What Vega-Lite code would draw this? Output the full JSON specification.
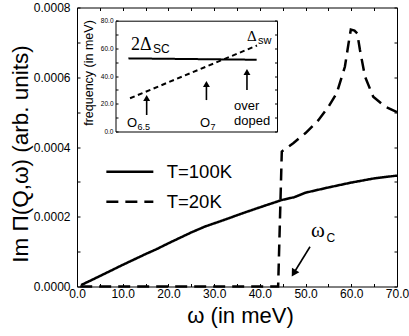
{
  "$schema": "https://vega.github.io/schema/vega-lite/v6.json",
  "width": 320,
  "height": 279,
  "autosize": "none",
  "padding": {"left": 77, "top": 7.5, "right": 12, "bottom": 49.5},
  "background": "white",
  "config": {
    "view": {"stroke": "#000", "strokeWidth": 1},
    "font": "Liberation Sans",
    "axis": {"grid": false, "labelColor": "#000", "tickColor": "#000", "domainColor": "#000", "titleColor": "#000", "labelFont": "Liberation Sans", "titleFont": "Liberation Sans", "titleFontWeight": "normal", "labelFlush": false, "labelOverlap": false}
  },
  "datasets": {
    "main": [
      {"w": 0.9, "v": 0.000004, "T": "T=100K"},
      {"w": 5, "v": 0.00003, "T": "T=100K"},
      {"w": 10, "v": 0.000062, "T": "T=100K"},
      {"w": 15, "v": 0.000093, "T": "T=100K"},
      {"w": 17.4, "v": 0.000107, "T": "T=100K"},
      {"w": 20, "v": 0.000124, "T": "T=100K"},
      {"w": 25, "v": 0.000155, "T": "T=100K"},
      {"w": 28, "v": 0.000172, "T": "T=100K"},
      {"w": 32, "v": 0.00019, "T": "T=100K"},
      {"w": 36, "v": 0.000209, "T": "T=100K"},
      {"w": 40, "v": 0.000227, "T": "T=100K"},
      {"w": 44.8, "v": 0.000248, "T": "T=100K"},
      {"w": 47.5, "v": 0.000256, "T": "T=100K"},
      {"w": 50, "v": 0.000269, "T": "T=100K"},
      {"w": 55, "v": 0.000284, "T": "T=100K"},
      {"w": 60, "v": 0.000298, "T": "T=100K"},
      {"w": 65, "v": 0.00031, "T": "T=100K"},
      {"w": 70, "v": 0.000318, "T": "T=100K"},
      {"w": 0.7, "v": 0, "T": "T=20K"},
      {"w": 44.0, "v": 0, "T": "T=20K"},
      {"w": 44.8, "v": 0.000387, "T": "T=20K"},
      {"w": 47.3, "v": 0.000411, "T": "T=20K"},
      {"w": 50, "v": 0.00044, "T": "T=20K"},
      {"w": 52.8, "v": 0.000477, "T": "T=20K"},
      {"w": 55, "v": 0.000515, "T": "T=20K"},
      {"w": 56.8, "v": 0.000554, "T": "T=20K"},
      {"w": 58.6, "v": 0.00063, "T": "T=20K"},
      {"w": 59.4, "v": 0.000697, "T": "T=20K"},
      {"w": 59.9, "v": 0.000737, "T": "T=20K"},
      {"w": 60.7, "v": 0.000734, "T": "T=20K"},
      {"w": 61.3, "v": 0.000726, "T": "T=20K"},
      {"w": 61.9, "v": 0.000678, "T": "T=20K"},
      {"w": 63, "v": 0.000602, "T": "T=20K"},
      {"w": 64.8, "v": 0.000544, "T": "T=20K"},
      {"w": 67.4, "v": 0.000516, "T": "T=20K"},
      {"w": 70, "v": 0.0005, "T": "T=20K"}
    ],
    "wc": [{"w1": 50.97, "v1": 0.000114, "w2": 47.4, "v2": 0.000038}],
    "mtext": [
      {"w": 51.2, "v": 0.000143, "t": "ω", "g": "big"},
      {"w": 54.6, "v": 0.0001285, "t": "C", "g": "sub"}
    ],
    "ilines": [
      {"p": 0.8, "f": 52.8, "s": "2ΔSC"},
      {"p": 8.74, "f": 51.8, "s": "2ΔSC"},
      {"p": 0.9, "f": 24.0, "s": "Δsw"},
      {"p": 8.76, "f": 62.1, "s": "Δsw"}
    ],
    "iarrows": [
      {"p": 1.93, "f1": 11.9, "f2": 24.2},
      {"p": 5.63, "f1": 22.7, "f2": 34.3},
      {"p": 8.14, "f1": 30, "f2": 42.9}
    ],
    "itext": [
      {"p": 0.96, "f": 58.8, "t": "2Δ", "g": "serif18"},
      {"p": 2.32, "f": 57, "t": "SC", "g": "sub12"},
      {"p": 8.14, "f": 65, "t": "Δ", "g": "serif15"},
      {"p": 8.82, "f": 63.2, "t": "sw", "g": "sub11"},
      {"p": 0.71, "f": 3.2, "t": "O", "g": "sans13"},
      {"p": 1.36, "f": 1.1, "t": "6.5", "g": "sub9"},
      {"p": 5.23, "f": 3.2, "t": "O", "g": "sans13"},
      {"p": 5.88, "f": 1.1, "t": "7", "g": "sub9"},
      {"p": 7.34, "f": 15.5, "t": "over", "g": "sans13"},
      {"p": 7.34, "f": 4.7, "t": "doped", "g": "sans13"}
    ]
  },
  "resolve": {"scale": {"x": "independent", "y": "independent", "strokeDash": "independent"}},
  "layer": [
    {
      "data": {"name": "main"},
      "mark": {"type": "line", "color": "#000", "strokeWidth": 2.5, "strokeCap": "butt"},
      "encoding": {
        "x": {"field": "w", "type": "quantitative", "scale": {"domain": [0, 70], "nice": false, "zero": false},
          "axis": {"orient": "bottom", "values": [0,5,10,15,20,25,30,35,40,45,50,55,60,65,70], "labelExpr": "datum.value % 10 === 0 ? format(datum.value, '.1f') : ''", "tickSize": -3, "labelPadding": 4.5, "labelFontSize": 12, "domain": false,
            "title": "ω (in meV)", "titleFontSize": 22, "titleX": 163, "titleY": 35.5, "titleBaseline": "alphabetic", "titleAlign": "center"}},
        "y": {"field": "v", "type": "quantitative", "scale": {"domain": [0, 0.0008], "nice": false},
          "axis": {"orient": "left", "values": [0,0.0001,0.0002,0.0003,0.0004,0.0005,0.0006,0.0007,0.0008], "labelExpr": "round(datum.value * 10000) % 2 === 0 ? format(datum.value, '.4f') : ''", "tickSize": -3, "labelPadding": 10, "labelFontSize": 12, "domain": false,
            "title": "Im Π(Q,ω) (arb. units)", "titleFontSize": 22.5, "titleX": -50, "titleY": 146, "titleAngle": 270, "titleBaseline": "alphabetic", "titleAlign": "center"}},
        "strokeDash": {"field": "T", "type": "nominal", "scale": {"domain": ["T=100K", "T=20K"], "range": [[1, 0], [12, 7]]},
          "legend": {"title": null, "orient": "none", "legendX": 43.6, "legendY": 155, "symbolType": "M-4,0H4", "symbolSize": 138, "symbolStrokeWidth": 2.5, "symbolStrokeColor": "#000", "labelFontSize": 18.5, "labelFont": "Liberation Sans", "labelColor": "#000", "labelOffset": 27.6, "rowPadding": 11, "padding": 0}}
      }
    },
    {
      "data": {"name": "wc"},
      "mark": {"type": "rule", "color": "#000", "strokeWidth": 1.6},
      "encoding": {
        "x": {"field": "w1", "type": "quantitative", "scale": {"domain": [0, 70], "nice": false, "zero": false},
          "axis": {"orient": "top", "values": [0,5,10,15,20,25,30,35,40,45,50,55,60,65,70], "labels": false, "tickSize": -3, "domain": false, "title": null}},
        "x2": {"field": "w2"},
        "y": {"field": "v1", "type": "quantitative", "scale": {"domain": [0, 0.0008], "nice": false},
          "axis": {"orient": "right", "values": [0,0.0001,0.0002,0.0003,0.0004,0.0005,0.0006,0.0007,0.0008], "labels": false, "tickSize": -3, "domain": false, "title": null}},
        "y2": {"field": "v2"}
      }
    },
    {
      "data": {"name": "wc"},
      "mark": {"type": "point", "shape": "triangle-up", "filled": true, "color": "#000", "size": 75, "angle": 211.4, "opacity": 1},
      "encoding": {
        "x": {"field": "w2", "type": "quantitative", "scale": {"domain": [0, 70], "nice": false, "zero": false}, "axis": null},
        "y": {"field": "v2", "type": "quantitative", "scale": {"domain": [0, 0.0008], "nice": false}, "axis": null}
      }
    },
    {
      "data": {"name": "mtext"},
      "transform": [{"filter": "datum.g === 'big'"}],
      "mark": {"type": "text", "font": "Liberation Serif", "fontSize": 21, "align": "left", "baseline": "alphabetic", "color": "#000"},
      "encoding": {
        "x": {"field": "w", "type": "quantitative", "scale": {"domain": [0, 70], "nice": false, "zero": false}, "axis": null},
        "y": {"field": "v", "type": "quantitative", "scale": {"domain": [0, 0.0008], "nice": false}, "axis": null},
        "text": {"field": "t"}
      }
    },
    {
      "data": {"name": "mtext"},
      "transform": [{"filter": "datum.g === 'sub'"}],
      "mark": {"type": "text", "font": "Liberation Sans", "fontSize": 12, "align": "left", "baseline": "alphabetic", "color": "#000"},
      "encoding": {
        "x": {"field": "w", "type": "quantitative", "scale": {"domain": [0, 70], "nice": false, "zero": false}, "axis": null},
        "y": {"field": "v", "type": "quantitative", "scale": {"domain": [0, 0.0008], "nice": false}, "axis": null},
        "text": {"field": "t"}
      }
    },
    {
      "data": {"name": "ilines"},
      "mark": {"type": "line", "color": "#000", "strokeWidth": 2, "strokeCap": "butt"},
      "encoding": {
        "x": {"field": "p", "type": "quantitative", "scale": {"domain": [0, 10], "range": [38.5, 200], "nice": false, "zero": false},
          "axis": {"orient": "bottom", "offset": -155, "ticks": false, "labels": false, "domain": true, "title": null}},
        "y": {"field": "f", "type": "quantitative", "scale": {"domain": [0, 80], "range": [124, 13.2], "nice": false, "zero": false},
          "axis": {"orient": "left", "offset": -38.5, "values": [0,10,20,30,40,50,60,70,80], "labelExpr": "datum.value % 20 === 0 ? format(datum.value, '.1f') : ''", "tickSize": -2.5, "labelPadding": 5, "labelFontSize": 6.5, "domain": true,
            "title": "frequency (in meV)", "titleFontSize": 12.5, "titleX": -23.5, "titleY": 65, "titleAngle": 270, "titleBaseline": "alphabetic", "titleAlign": "center"}},
        "strokeDash": {"field": "s", "type": "nominal", "scale": {"domain": ["2ΔSC", "Δsw"], "range": [[1, 0], [5, 3.5]]}, "legend": null}
      }
    },
    {
      "data": {"name": "iarrows"},
      "mark": {"type": "rule", "color": "#000", "strokeWidth": 1.6},
      "encoding": {
        "x": {"field": "p", "type": "quantitative", "scale": {"domain": [0, 10], "range": [38.5, 200], "nice": false, "zero": false},
          "axis": {"orient": "top", "offset": -13.2, "ticks": false, "labels": false, "domain": true, "title": null}},
        "y": {"field": "f1", "type": "quantitative", "scale": {"domain": [0, 80], "range": [124, 13.2], "nice": false, "zero": false},
          "axis": {"orient": "right", "offset": -120, "values": [0,10,20,30,40,50,60,70,80], "labels": false, "tickSize": -2.5, "domain": true, "title": null}},
        "y2": {"field": "f2"}
      }
    },
    {
      "data": {"name": "iarrows"},
      "mark": {"type": "point", "shape": "triangle-up", "filled": true, "color": "#000", "size": 48, "opacity": 1},
      "encoding": {
        "x": {"field": "p", "type": "quantitative", "scale": {"domain": [0, 10], "range": [38.5, 200], "nice": false, "zero": false}, "axis": null},
        "y": {"field": "f2", "type": "quantitative", "scale": {"domain": [0, 80], "range": [124, 13.2], "nice": false, "zero": false}, "axis": null}
      }
    },
    {
      "data": {"name": "itext"},
      "transform": [{"filter": "datum.g === 'serif18'"}],
      "mark": {"type": "text", "font": "Liberation Serif", "fontSize": 18, "align": "left", "baseline": "alphabetic", "color": "#000"},
      "encoding": {
        "x": {"field": "p", "type": "quantitative", "scale": {"domain": [0, 10], "range": [38.5, 200], "nice": false, "zero": false}, "axis": null},
        "y": {"field": "f", "type": "quantitative", "scale": {"domain": [0, 80], "range": [124, 13.2], "nice": false, "zero": false}, "axis": null},
        "text": {"field": "t"}
      }
    },
    {
      "data": {"name": "itext"},
      "transform": [{"filter": "datum.g === 'serif15'"}],
      "mark": {"type": "text", "font": "Liberation Serif", "fontSize": 15, "align": "left", "baseline": "alphabetic", "color": "#000"},
      "encoding": {
        "x": {"field": "p", "type": "quantitative", "scale": {"domain": [0, 10], "range": [38.5, 200], "nice": false, "zero": false}, "axis": null},
        "y": {"field": "f", "type": "quantitative", "scale": {"domain": [0, 80], "range": [124, 13.2], "nice": false, "zero": false}, "axis": null},
        "text": {"field": "t"}
      }
    },
    {
      "data": {"name": "itext"},
      "transform": [{"filter": "datum.g === 'sub12'"}],
      "mark": {"type": "text", "font": "Liberation Sans", "fontSize": 12, "align": "left", "baseline": "alphabetic", "color": "#000"},
      "encoding": {
        "x": {"field": "p", "type": "quantitative", "scale": {"domain": [0, 10], "range": [38.5, 200], "nice": false, "zero": false}, "axis": null},
        "y": {"field": "f", "type": "quantitative", "scale": {"domain": [0, 80], "range": [124, 13.2], "nice": false, "zero": false}, "axis": null},
        "text": {"field": "t"}
      }
    },
    {
      "data": {"name": "itext"},
      "transform": [{"filter": "datum.g === 'sub11'"}],
      "mark": {"type": "text", "font": "Liberation Sans", "fontSize": 11, "align": "left", "baseline": "alphabetic", "color": "#000"},
      "encoding": {
        "x": {"field": "p", "type": "quantitative", "scale": {"domain": [0, 10], "range": [38.5, 200], "nice": false, "zero": false}, "axis": null},
        "y": {"field": "f", "type": "quantitative", "scale": {"domain": [0, 80], "range": [124, 13.2], "nice": false, "zero": false}, "axis": null},
        "text": {"field": "t"}
      }
    },
    {
      "data": {"name": "itext"},
      "transform": [{"filter": "datum.g === 'sans13'"}],
      "mark": {"type": "text", "font": "Liberation Sans", "fontSize": 13, "align": "left", "baseline": "alphabetic", "color": "#000"},
      "encoding": {
        "x": {"field": "p", "type": "quantitative", "scale": {"domain": [0, 10], "range": [38.5, 200], "nice": false, "zero": false}, "axis": null},
        "y": {"field": "f", "type": "quantitative", "scale": {"domain": [0, 80], "range": [124, 13.2], "nice": false, "zero": false}, "axis": null},
        "text": {"field": "t"}
      }
    },
    {
      "data": {"name": "itext"},
      "transform": [{"filter": "datum.g === 'sub9'"}],
      "mark": {"type": "text", "font": "Liberation Sans", "fontSize": 9, "align": "left", "baseline": "alphabetic", "color": "#000"},
      "encoding": {
        "x": {"field": "p", "type": "quantitative", "scale": {"domain": [0, 10], "range": [38.5, 200], "nice": false, "zero": false}, "axis": null},
        "y": {"field": "f", "type": "quantitative", "scale": {"domain": [0, 80], "range": [124, 13.2], "nice": false, "zero": false}, "axis": null},
        "text": {"field": "t"}
      }
    }
  ]
}
